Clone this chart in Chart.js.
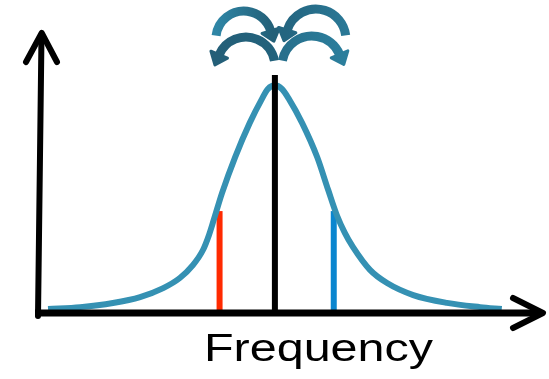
<!DOCTYPE html>
<html>
<head>
<meta charset="utf-8">
<title>Frequency</title>
<script src="https://cdn.jsdelivr.net/npm/chart.js@4.4.1/dist/chart.umd.min.js"></script>
<style>
  html, body { margin: 0; padding: 0; background: #fff; }
  canvas { display: block; }
</style>
</head>
<body>
<canvas id="grafico" width="549" height="379"></canvas>
<script>
// Line profile on a 0..100 frequency / 0..100 intensity grid
const frequencias = [1.6, 8.0, 14.5, 19.9, 24.5, 27.8, 30.4, 32.4, 33.6, 34.6, 36.2, 38.8, 41.7, 44.1, 45.3, 46.7, 48.1, 49.5, 52.1, 55.1, 57.3, 59.0, 60.6, 62.2, 65.6, 69.0, 74.2, 80.9, 87.5, 91.8];
const intensidades = [1.4, 2.1, 3.6, 5.7, 8.9, 12.5, 17.1, 22.5, 27.9, 33.6, 42.9, 55.7, 67.9, 76.4, 80.0, 81.3, 80.0, 76.4, 67.9, 55.7, 43.9, 35.0, 28.6, 23.6, 15.4, 10.7, 6.4, 3.6, 2.1, 1.4];

// Centre line and the two shifted markers (frequency, height)
const centro = { freq: 46.7, altura: 85 };
const marcadorVermelho = { freq: 35.7, altura: 36.4 };
const marcadorAzul = { freq: 58.4, altura: 36.4 };

const rotuloEixo = "Frequency";

const COR_CURVA = "#3591b3";
const COR_VERMELHO = "#ff2a00";
const COR_AZUL = "#0a86cf";

function barraVertical(m, cor) {
  return {
    data: [{ x: m.freq, y: 0 }, { x: m.freq, y: m.altura }],
    borderColor: cor,
    borderWidth: 6,
    borderCapStyle: "butt",
    pointRadius: 0,
    tension: 0,
  };
}

// arco com ponta de seta numa das extremidades
function arcoSeta(ctx, cx, cy, r, a0, a1, pontaNoFim, c0, c1) {
  const g = ctx.createLinearGradient(cx - r, 0, cx + r, 0);
  g.addColorStop(0, c0);
  g.addColorStop(1, c1);
  ctx.strokeStyle = g;
  ctx.fillStyle = g;
  ctx.lineWidth = 9;
  ctx.lineCap = "butt";
  ctx.beginPath();
  ctx.arc(cx, cy, r, a0, a1);
  ctx.stroke();

  const a = pontaNoFim ? a1 : a0;
  const ex = cx + r * Math.cos(a);
  const ey = cy + r * Math.sin(a);
  let tx = -Math.sin(a), ty = Math.cos(a);
  if (!pontaNoFim) { tx = -tx; ty = -ty; }
  const nx = -ty, ny = tx;
  ctx.lineWidth = 3;
  ctx.lineJoin = "round";
  ctx.beginPath();
  ctx.moveTo(ex + tx * 11, ey + ty * 11);
  ctx.lineTo(ex + nx * 9, ey + ny * 9);
  ctx.lineTo(ex - nx * 9, ey - ny * 9);
  ctx.closePath();
  ctx.fill();
  ctx.stroke();
}

const desenhoEixos = {
  id: "desenhoEixos",
  afterDatasetsDraw(chart) {
    const { ctx, chartArea: ca, scales } = chart;
    ctx.save();
    ctx.strokeStyle = "#000";
    ctx.lineCap = "round";
    ctx.lineJoin = "round";

    // eixo y (levemente inclinado, traço à mão)
    ctx.lineWidth = 6;
    ctx.beginPath();
    ctx.moveTo(ca.left - 2, ca.bottom + 3);
    ctx.lineTo(ca.left + 1.5, ca.top + 2);
    ctx.stroke();
    ctx.beginPath();
    ctx.moveTo(ca.left - 14, ca.top + 29);
    ctx.lineTo(ca.left + 1.7, ca.top);
    ctx.lineTo(ca.left + 17, ca.top + 29);
    ctx.stroke();

    // eixo x
    ctx.lineWidth = 7;
    ctx.lineCap = "butt";
    ctx.beginPath();
    ctx.moveTo(ca.left - 5, ca.bottom);
    ctx.lineTo(ca.right - 3, ca.bottom);
    ctx.stroke();
    ctx.lineWidth = 6;
    ctx.lineCap = "round";
    ctx.beginPath();
    ctx.moveTo(ca.right - 30, ca.bottom - 15);
    ctx.lineTo(ca.right, ca.bottom);
    ctx.lineTo(ca.right - 30, ca.bottom + 15);
    ctx.stroke();

    // setas curvas sobre o pico
    const pc = scales.x.getPixelForValue(centro.freq);
    const PI = Math.PI;
    arcoSeta(ctx, pc - 31, ca.top + 6, 28, PI + 0.12, 2 * PI - 0.3, true, "#2f86a6", "#236078");
    arcoSeta(ctx, pc + 41, ca.top + 6, 30, PI + 0.3, 2 * PI - 0.12, false, "#246580", "#2a7896");
    arcoSeta(ctx, pc - 29, ca.top + 33, 29, PI + 0.4, 2 * PI - 0.18, false, "#245f78", "#22627c");
    arcoSeta(ctx, pc + 37, ca.top + 33, 30, PI + 0.18, 2 * PI - 0.4, true, "#276f8c", "#2b7e9c");

    // rótulo do eixo x
    ctx.fillStyle = "#000";
    ctx.font = '38px "Liberation Sans", Arial, sans-serif';
    ctx.textBaseline = "alphabetic";
    const w = ctx.measureText(rotuloEixo).width;
    ctx.translate(204, ca.bottom + 47.5);
    ctx.scale(229 / w, 1);
    ctx.fillText(rotuloEixo, 0, 0);
    ctx.restore();
  },
};

new Chart(document.getElementById("grafico"), {
  type: "line",
  data: {
    datasets: [
      barraVertical(centro, "#000"),
      {
        data: frequencias.map((f, i) => ({ x: f, y: intensidades[i] })),
        borderColor: COR_CURVA,
        borderWidth: 6,
        pointRadius: 0,
        cubicInterpolationMode: "monotone",
      },
      barraVertical(marcadorVermelho, COR_VERMELHO),
      barraVertical(marcadorAzul, COR_AZUL),
    ],
  },
  options: {
    responsive: false,
    devicePixelRatio: 1,
    animation: false,
    layout: { padding: { left: 40, top: 33, right: 6, bottom: 66 } },
    scales: {
      x: { type: "linear", min: 0, max: 100, display: false },
      y: { type: "linear", min: 0, max: 100, display: false },
    },
    plugins: { legend: { display: false }, tooltip: { enabled: false } },
  },
  plugins: [desenhoEixos],
});
</script>
</body>
</html>
